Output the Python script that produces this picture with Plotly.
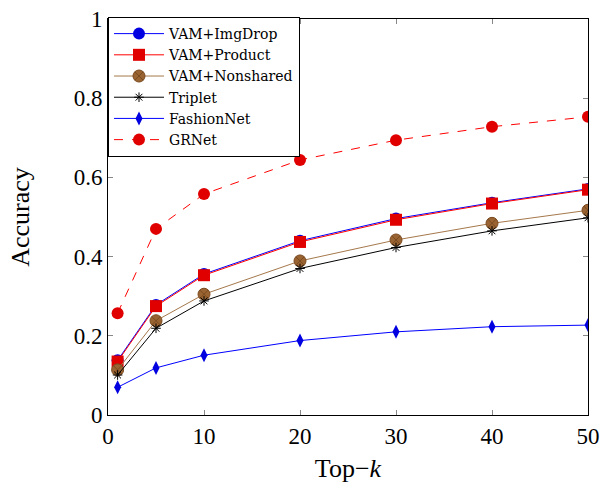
import plotly.graph_objects as go

top_k = [1, 5, 10, 20, 30, 40, 50]
vam_imgdrop = [0.138, 0.278, 0.356, 0.440, 0.496, 0.536, 0.571]
vam_product = [0.135, 0.275, 0.353, 0.437, 0.493, 0.534, 0.569]
vam_nonshared = [0.114, 0.238, 0.305, 0.389, 0.442, 0.484, 0.517]
triplet = [0.101, 0.219, 0.288, 0.370, 0.423, 0.465, 0.498]
fashionnet = [0.070, 0.119, 0.151, 0.188, 0.210, 0.223, 0.227]
grnet = [0.257, 0.470, 0.558, 0.644, 0.694, 0.728, 0.753]

x_ticks = [0, 10, 20, 30, 40, 50]
y_ticks = [0, 0.2, 0.4, 0.6, 0.8, 1]
y_tick_labels = ["0", "0.2", "0.4", "0.6", "0.8", "1"]

FONT = "Liberation Serif"
LEGEND_FONT = "DejaVu Serif"

fig = go.Figure()
fig.add_trace(go.Scatter(x=top_k, y=vam_imgdrop, name="VAM+ImgDrop", mode="lines+markers",
                         line=dict(color="#0000ff", width=1),
                         marker=dict(symbol="circle", size=12, color="#0000e0")))
fig.add_trace(go.Scatter(x=top_k, y=vam_product, name="VAM+Product", mode="lines+markers",
                         line=dict(color="#ff0000", width=1),
                         marker=dict(symbol="square", size=12, color="#e00000")))
fig.add_trace(go.Scatter(x=top_k, y=vam_nonshared, name="VAM+Nonshared", mode="lines+markers",
                         line=dict(color="#a5784b", width=1),
                         marker=dict(symbol="circle-x", size=12, color="#9a6432",
                                     line=dict(color="#7a4a20", width=1))))
fig.add_trace(go.Scatter(x=top_k, y=triplet, name="Triplet", mode="lines+markers",
                         line=dict(color="#000000", width=1),
                         marker=dict(symbol="asterisk-open", size=8, color="#000000",
                                     line=dict(color="#000000", width=1))))
fig.add_trace(go.Scatter(x=top_k, y=fashionnet, name="FashionNet", mode="lines+markers",
                         line=dict(color="#0000ff", width=1),
                         marker=dict(symbol="diamond-tall", size=10, color="#0000e0")))
fig.add_trace(go.Scatter(x=top_k, y=grnet, name="GRNet", mode="lines+markers",
                         line=dict(color="#ff0000", width=1, dash="dash"),
                         marker=dict(symbol="circle", size=12, color="#e00000")))

fig.update_layout(
    width=601, height=483,
    margin=dict(l=108, r=13, t=19, b=68),
    paper_bgcolor="white", plot_bgcolor="white",
    font=dict(family=FONT, size=22, color="black"),
    showlegend=True,
    legend=dict(x=0, y=1.005, xanchor="left", yanchor="top",
                bgcolor="white", bordercolor="black", borderwidth=1,
                font=dict(family=LEGEND_FONT, size=14, color="black"),
                itemwidth=50),
)
fig.update_xaxes(range=[0, 50], tickvals=x_ticks, ticks="inside", ticklen=5,
                 tickcolor="#888888", showline=True, linecolor="black", linewidth=1,
                 mirror="ticks", showgrid=False, zeroline=False, automargin=False,
                 title=dict(text="Top\u2212<i>k</i>", standoff=17),
                 tickfont=dict(size=23))
fig.update_yaxes(range=[0, 1], tickvals=y_ticks, ticktext=y_tick_labels, ticks="inside",
                 ticklen=5, tickcolor="#888888", showline=True, linecolor="black",
                 linewidth=1, mirror="ticks", showgrid=False, zeroline=False,
                 automargin=False,
                 title=dict(text="Accuracy", standoff=36),
                 tickfont=dict(size=23))

fig.write_html("out.html", config={"displayModeBar": False},
               post_script="document.body.style.margin='0';")
